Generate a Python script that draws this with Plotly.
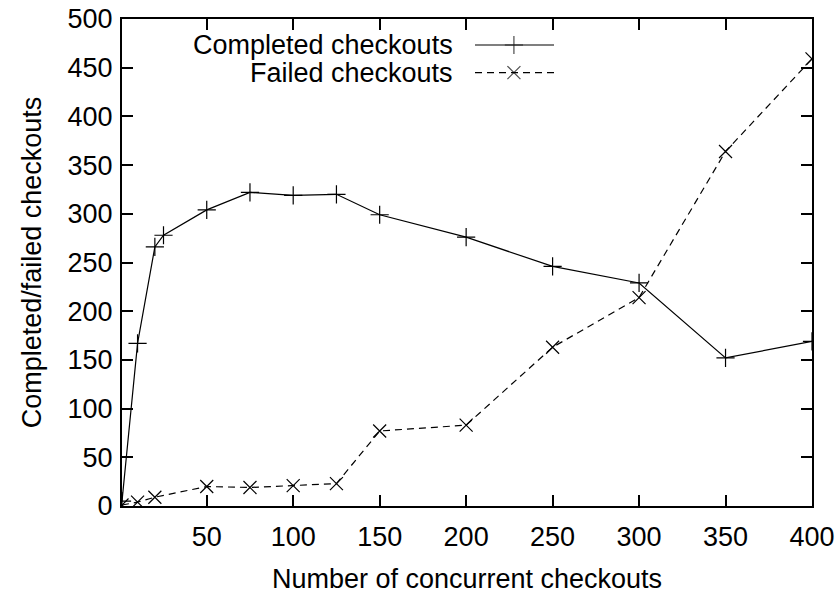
import plotly.graph_objects as go

# ---- data ----
x_completed = [1, 10, 20, 25, 50, 75, 100, 125, 150, 200, 250, 300, 350, 400]
completed = [5, 167, 266, 278, 304, 322, 319, 320, 299, 276, 246, 229, 152, 169]

x_failed = [1, 10, 20, 50, 75, 100, 125, 150, 200, 250, 300, 350, 400]
failed = [1, 4, 9, 20, 19, 21, 23, 77, 83, 163, 214, 364, 459]

x_ticks = [50, 100, 150, 200, 250, 300, 350, 400]
y_ticks = [0, 50, 100, 150, 200, 250, 300, 350, 400, 450, 500]

series_names = ["Completed checkouts", "Failed checkouts"]

FONT = "Liberation Sans, Arial, Helvetica, sans-serif"
FS = 27
DASH = "7px,5px"

fig = go.Figure()

fig.add_trace(go.Scatter(
    x=x_completed, y=completed, mode="lines+markers",
    line=dict(color="black", width=1.2),
    marker=dict(symbol="cross-thin-open", size=13, line=dict(color="black", width=1.2)),
    showlegend=False,
))
fig.add_trace(go.Scatter(
    x=x_failed, y=failed, mode="lines+markers",
    line=dict(color="black", width=1.2, dash=DASH),
    marker=dict(symbol="x-thin-open", size=13, line=dict(color="black", width=1.2)),
    showlegend=False,
))

# ---- gnuplot-style key: text right-aligned, then sample line with marker ----
key_rows_y = [0.9466, 0.890]
key_x = [0.5116, 0.568, 0.6261]
styles = [("solid", "cross-thin-open", 13), (DASH, "x-thin-open", 13)]
for name, ky, (dash, sym, sz) in zip(series_names, key_rows_y, styles):
    fig.add_trace(go.Scatter(
        x=key_x, y=[ky] * 3, xaxis="x2", yaxis="y2", mode="lines+markers",
        line=dict(color="black", width=1.2, dash=dash),
        marker=dict(symbol=sym, size=[0, sz, 0], line=dict(color="black", width=1.2)),
        showlegend=False, hoverinfo="skip",
    ))
    fig.add_annotation(
        x=0.4826, y=ky, xref="x2", yref="y2", text=name, showarrow=False,
        xanchor="right", yanchor="middle", font=dict(family=FONT, size=FS, color="black"),
    )

axis_common = dict(
    showline=True, linewidth=2, linecolor="black", mirror="ticks",
    ticks="inside", ticklen=11, tickwidth=1.5, tickcolor="black",
    showgrid=False, zeroline=False, automargin=False,
    tickfont=dict(family=FONT, size=FS, color="black"),
)

fig.update_layout(
    width=840, height=594,
    margin=dict(l=122, r=28, t=19, b=88),
    paper_bgcolor="white", plot_bgcolor="white",
    font=dict(family=FONT, size=FS, color="black"),
    xaxis=dict(range=[1, 400], tickvals=x_ticks, **axis_common,
               ticklabelstandoff=6,
               title=dict(text="Number of concurrent checkouts", standoff=22,
                          font=dict(family=FONT, size=FS))),
    yaxis=dict(range=[0, 500], tickvals=y_ticks, **axis_common,
               ticklabelstandoff=2,
               title=dict(text="Completed/failed checkouts", standoff=18,
                          font=dict(family=FONT, size=FS))),
    xaxis2=dict(overlaying="x", range=[0, 1], visible=False),
    yaxis2=dict(overlaying="y", range=[0, 1], visible=False),
    showlegend=False,
)

fig.write_html("out.html")
